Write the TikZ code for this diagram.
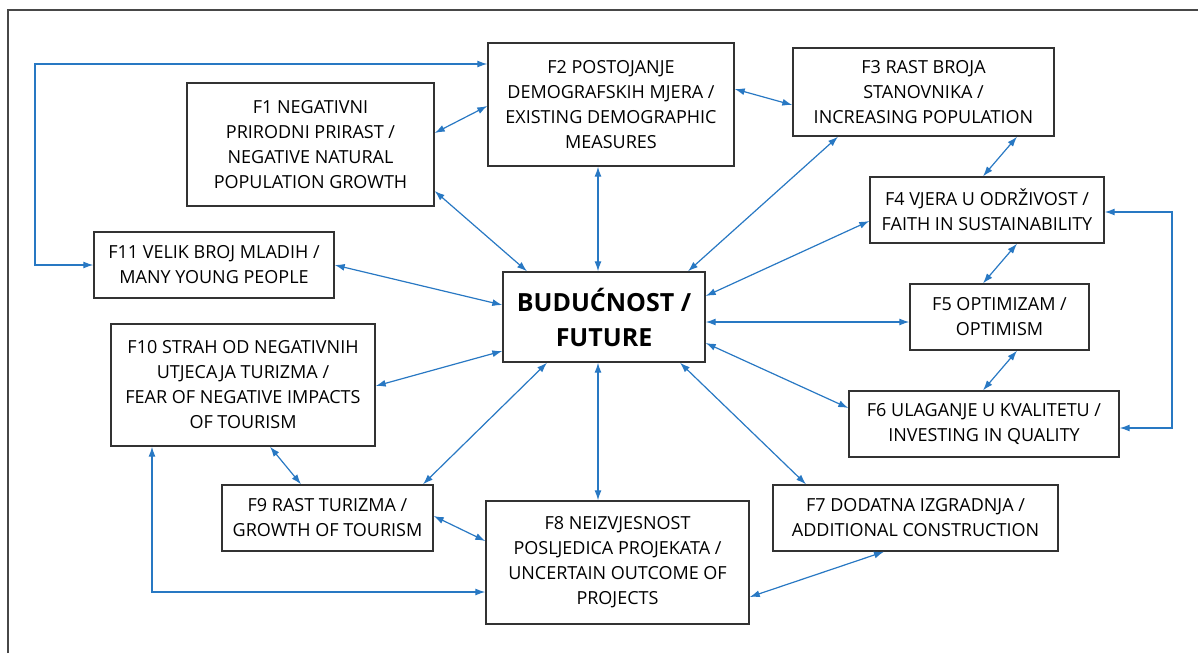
\documentclass[tikz,border=0pt]{standalone}
\usepackage{fontspec}
\setmainfont{Open Sans}
\usetikzlibrary{arrows.meta, positioning, calc}

\definecolor{linkblue}{RGB}{40,120,195}
\definecolor{boxgray}{RGB}{50,50,50}

\tikzset{
    factor/.style={draw=boxgray, line width=1.4pt, align=center, inner sep=0pt,
        font=\fontsize{18}{25}\selectfont},
    link/.style={<->, draw=linkblue, line width=1.2pt},
}

\begin{document}
\begin{tikzpicture}[x=1pt, y=-1pt, >={Latex[length=10pt,width=7pt]}]

\useasboundingbox (0,0) rectangle (1198,653);
\draw[draw=boxgray!90, line width=1.8pt] (8,653) -- (8,10) -- (1198,10);

\node[factor, minimum width=247pt, minimum height=123pt] (f1) at (310.5,144.5) {F1 NEGATIVNI\\PRIRODNI PRIRAST /\\NEGATIVE NATURAL\\POPULATION GROWTH};
\node[factor, minimum width=246pt, minimum height=123pt] (f2) at (611,104.5) {F2 POSTOJANJE\\DEMOGRAFSKIH MJERA /\\EXISTING DEMOGRAPHIC\\MEASURES};
\node[factor, minimum width=261pt, minimum height=88pt] (f3) at (923.5,92) {F3 RAST BROJA\\STANOVNIKA /\\INCREASING POPULATION};
\node[factor, minimum width=234pt, minimum height=66pt] (f4) at (987,210) {F4 VJERA U ODRŽIVOST /\\FAITH IN SUSTAINABILITY};
\node[factor, minimum width=179pt, minimum height=66pt] (f5) at (999.5,317) {F5 OPTIMIZAM /\\OPTIMISM};
\node[factor, minimum width=270pt, minimum height=66pt] (f6) at (984,424) {F6 ULAGANJE U KVALITETU /\\INVESTING IN QUALITY};
\node[factor, minimum width=285pt, minimum height=66pt] (f7) at (915.5,518) {F7 DODATNA IZGRADNJA /\\ADDITIONAL CONSTRUCTION};
\node[factor, minimum width=263pt, minimum height=123pt] (f8) at (617.5,562.5) {F8 NEIZVJESNOST\\POSLJEDICA PROJEKATA /\\UNCERTAIN OUTCOME OF\\PROJECTS};
\node[factor, minimum width=211pt, minimum height=66pt] (f9) at (327.5,518) {F9 RAST TURIZMA /\\GROWTH OF TOURISM};
\node[factor, minimum width=264pt, minimum height=122pt] (f10) at (243,385) {F10 STRAH OD NEGATIVNIH\\UTJECAJA TURIZMA /\\FEAR OF NEGATIVE IMPACTS\\OF TOURISM};
\node[factor, minimum width=240pt, minimum height=66pt] (f11) at (214,265) {F11 VELIK BROJ MLADIH /\\MANY YOUNG PEOPLE};

\node[factor, minimum width=202pt, minimum height=90pt, font=\fontsize{25}{35}\selectfont\bfseries] (future) at (604,317) {BUDUĆNOST /\\FUTURE};

% links around the centre
\draw[link] (f1.east |- 0,133) -- (f2.west |- 0,106);
\draw[link] (f2.east |- 0,89) -- (f3.west |- 0,105);
\draw[link] (f2.south -| 598,0) -- (future.north -| 598,0);
\draw[link] (f1.east |- 0,191) -- (future.north -| 527,0);
\draw[link] (f3.south -| 838,0) -- (future.north -| 688,0);
\draw[link] (f3.south -| 1017,0) -- (f4.north -| 983,0);
\draw[link] (f4.west |- 0,221) -- (future.east |- 0,296);
\draw[link] (f4.south -| 1017,0) -- (f5.north -| 983,0);
\draw[link] (future.east |- 0,322) -- (f5.west |- 0,322);
\draw[link] (f5.south -| 1017,0) -- (f6.north -| 983,0);
\draw[link] (future.east |- 0,343) -- (f6.west |- 0,408);
\draw[link] (f6.east |- 0,428) -| (1172,212) -- (f4.east |- 0,212);
\draw[link] (future.south -| 680,0) -- (f7.north -| 806,0);
\draw[link] (f7.south -| 884,0) -- (f8.east |- 0,597);
\draw[link] (future.south -| 598,0) -- (f8.north -| 598,0);
\draw[link] (future.south -| 547,0) -- (f9.north -| 423,0);
\draw[link] (f9.east |- 0,516) -- (f8.west |- 0,541);
\draw[link] (f10.east |- 0,386) -- (future.west |- 0,351);
\draw[link] (f10.south -| 270,0) -- (f9.north -| 301,0);
\draw[link] (f10.south -| 152,0) |- (f8.west |- 0,592);
\draw[link] (f11.east |- 0,265) -- (future.west |- 0,305);
\draw[link] (f11.west |- 0,265) -| (35,64) -- (f2.west |- 0,64);

\end{tikzpicture}
\end{document}
